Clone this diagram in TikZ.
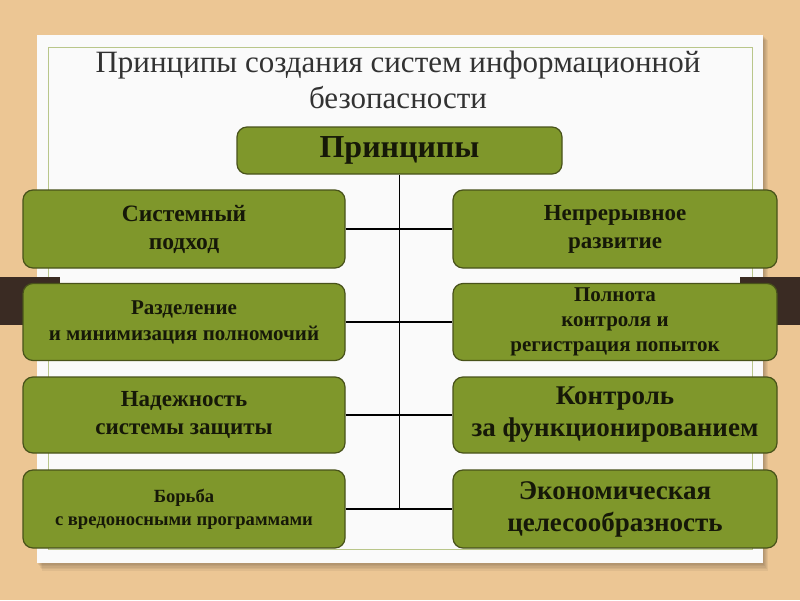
\documentclass[tikz,border=0pt]{standalone}
\usepackage{fontspec}
\setmainfont{Liberation Serif}
\definecolor{wood}{RGB}{236,198,148}
\definecolor{olive}{RGB}{127,151,43}
\definecolor{oliveedge}{RGB}{72,82,26}
\definecolor{barbrown}{RGB}{58,43,35}
\definecolor{inkdark}{RGB}{22,24,8}
\definecolor{titlegray}{RGB}{50,50,50}
\tikzset{
  pbox/.style={draw=oliveedge, fill=olive, line width=1.2pt, rounded corners=10pt,
    align=center, text=inkdark, inner sep=0pt},
  conn/.style={black, line width=1.6pt},
}
\newcommand{\fs}[2]{\bfseries\fontsize{#1}{#2}\selectfont}

\begin{document}
\begin{tikzpicture}[x=1pt,y=-1pt]
  \useasboundingbox (0,0) rectangle (800,600);

  % wood, panel, bars
  \fill[wood] (0,0) rectangle (800,600);
  \foreach \d in {1,...,5} {
    \fill[black, opacity=.05] (37+\d,35+\d) rectangle (763+\d,563+1.5*\d);
  }
  \fill[white!96!gray] (37,35) rectangle (763,563);
  \draw[olive!55!white, line width=.8pt] (48,47) rectangle (752,549);
  \fill[barbrown] (0,277) rectangle (60,325);
  \fill[barbrown] (740,277) rectangle (800,325);

  % title
  \node[anchor=base, text=titlegray, font=\fontsize{31}{36}\selectfont] (title) at (398,72)
    {Принципы создания систем информационной};
  \node[anchor=base, text=titlegray, font=\fontsize{31}{36}\selectfont] (title2) at (398,108)
    {безопасности};

  % boxes
  \node[pbox, minimum width=325, minimum height=47, font=\fs{32}{36}] (top) at (399.5,150.5) {Принципы};

  \node[pbox, minimum width=322, minimum height=78, font=\fs{23.5}{28}] (l1) at (184,229) {Системный\\подход};
  \node[pbox, minimum width=322, minimum height=77, font=\fs{21}{26}] (l2) at (184,322) {Разделение\\и минимизация полномочий};
  \node[pbox, minimum width=322, minimum height=76, font=\fs{23}{28}] (l3) at (184,415) {Надежность\\системы защиты};
  \node[pbox, minimum width=322, minimum height=78, font=\fs{18.6}{23}] (l4) at (184,509) {Борьба\\с вредоносными программами};

  \node[pbox, minimum width=324, minimum height=78, font=\fs{23}{28}] (r1) at (615,229) {Непрерывное\\развитие};
  \node[pbox, minimum width=324, minimum height=77, font=\fs{21}{25}] (r2) at (615,322) {Полнота\\контроля и\\регистрация попыток};
  \node[pbox, minimum width=324, minimum height=76, font=\fs{27}{32}] (r3) at (615,415) {Контроль\\за функционированием};
  \node[pbox, minimum width=324, minimum height=78, font=\fs{27}{32}] (r4) at (615,509) {Экономическая\\целесообразность};

  % connectors
  \draw[conn] (top.south) -- (top.south |- l4.east);
  \foreach \i in {1,...,4} {
    \draw[conn] (l\i.east) -- (r\i.west);
  }
\end{tikzpicture}
\end{document}
